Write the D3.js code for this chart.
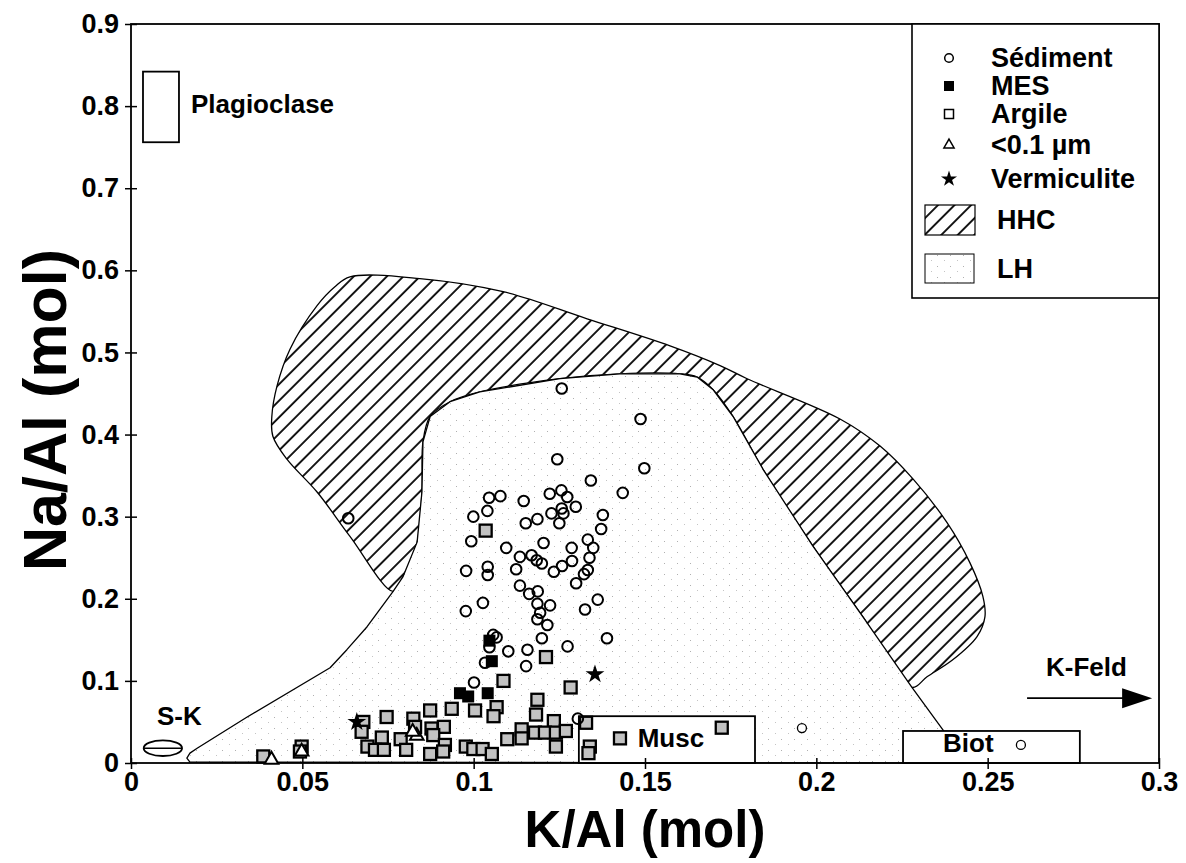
<!DOCTYPE html>
<html><head><meta charset="utf-8">
<script src="https://cdn.jsdelivr.net/npm/d3@7"></script>
<style>
body{margin:0;background:#fff}
text{font-family:"Liberation Sans",Arial,Helvetica,sans-serif;font-weight:bold;fill:#000}
</style>
</head><body>
<svg id="c" width="1186" height="863"></svg>
<script>
// ---------- data ----------
const xTicks = [0, 0.05, 0.1, 0.15, 0.2, 0.25, 0.3];
const xTickLabels = ["0", "0.05", "0.1", "0.15", "0.2", "0.25", "0.3"];
const yTicks = [0, 0.1, 0.2, 0.3, 0.4, 0.5, 0.6, 0.7, 0.8, 0.9];
const yTickLabels = ["0", "0.1", "0.2", "0.3", "0.4", "0.5", "0.6", "0.7", "0.8", "0.9"];
const legendLabels = ["Sédiment", "MES", "Argile", "<0.1 µm", "Vermiculite"];
const zoneLabels = ["HHC", "LH"];

const sediment = [
[0.1257,0.456],[0.1487,0.419],[0.1244,0.370],[0.1498,0.359],[0.1342,0.344],[0.1435,0.329],
[0.1045,0.323],[0.1078,0.325],[0.1222,0.328],[0.1256,0.332],[0.1273,0.324],[0.1146,0.319],
[0.1040,0.307],[0.0999,0.300],[0.1227,0.304],[0.1257,0.310],[0.1298,0.312],[0.1262,0.304],
[0.1186,0.297],[0.1152,0.292],[0.1250,0.292],[0.1377,0.302],[0.1372,0.285],[0.0993,0.270],
[0.1204,0.268],[0.1333,0.272],[0.1095,0.262],[0.1286,0.262],[0.1349,0.262],[0.1135,0.251],
[0.1169,0.253],[0.1184,0.247],[0.1199,0.243],[0.1124,0.236],[0.0978,0.234],[0.1041,0.239],
[0.1041,0.229],[0.1234,0.233],[0.1258,0.240],[0.1287,0.246],[0.1338,0.250],[0.1333,0.235],
[0.1322,0.230],[0.1135,0.216],[0.1162,0.206],[0.1187,0.209],[0.1299,0.219],[0.1186,0.194],
[0.1223,0.192],[0.1194,0.183],[0.1186,0.175],[0.1215,0.168],[0.1362,0.199],[0.1325,0.187],
[0.1027,0.195],[0.0977,0.185],[0.1199,0.152],[0.1389,0.152],[0.1274,0.142],[0.1157,0.138],
[0.1101,0.136],[0.1057,0.156],[0.1067,0.153],[0.1046,0.141],[0.1033,0.122],[0.1153,0.118],
[0.1001,0.098],[0.1304,0.054],[0.0634,0.298]
];
const sedimentSmall = [[0.1958,0.0425],[0.2597,0.022]];
const mes = [[0.1046,0.149],[0.1053,0.124],[0.0960,0.085],[0.0984,0.081],[0.1041,0.085]];
const argile = [
[0.1035,0.283],[0.1211,0.129],[0.1087,0.100],[0.1283,0.092],[0.1186,0.077],[0.1004,0.064],
[0.1067,0.068],[0.1058,0.057],[0.1182,0.059],[0.1234,0.051],[0.1140,0.041],[0.1140,0.030],
[0.1179,0.037],[0.1208,0.037],[0.1240,0.037],[0.1269,0.039],[0.1098,0.029],[0.1240,0.020],
[0.0977,0.020],[0.0999,0.017],[0.1026,0.017],[0.1053,0.011],[0.1328,0.049],[0.1339,0.020],
[0.1335,0.012],[0.1427,0.030],[0.1724,0.043],[0.0936,0.066],[0.0678,0.050],[0.0673,0.038],
[0.0746,0.056],[0.0732,0.031],[0.0824,0.054],[0.0829,0.044],[0.0787,0.029],[0.0873,0.064],
[0.0877,0.042],[0.0913,0.044],[0.0882,0.034],[0.0916,0.022],[0.0911,0.014],[0.0873,0.011],
[0.0803,0.016],[0.0690,0.020],[0.0712,0.016],[0.0738,0.016],[0.0386,0.008],[0.0498,0.020],
[0.0493,0.014]
];
const fine = [[0.0410,0.004],[0.0498,0.014],[0.0834,0.033],[0.0822,0.038]];
const vermiculite = [[0.0659,0.050],[0.1354,0.108]];

// HHC zone outline
const hhc = [
[0.0639,0.592],[0.0843,0.590],[0.1086,0.574],[0.1331,0.541],[0.1573,0.508],[0.1719,0.484],
[0.1798,0.468],[0.2069,0.419],[0.2186,0.386],[0.2282,0.346],[0.2381,0.293],[0.2448,0.244],
[0.2486,0.203],[0.2492,0.178],[0.2469,0.154],[0.2399,0.126],[0.2323,0.105],[0.2279,0.092],
[0.2136,0.178],[0.1990,0.264],[0.1844,0.358],[0.1757,0.422],[0.1698,0.455],[0.1652,0.470],
[0.1602,0.474],[0.1427,0.474],[0.1252,0.468],[0.1018,0.452],[0.0931,0.440],[0.0873,0.422],
[0.0852,0.391],[0.0849,0.330],[0.0835,0.269],[0.0794,0.227],[0.0765,0.209],
[0.0639,0.276],[0.0543,0.330],[0.0455,0.370],[0.0414,0.398],[0.0411,0.422],[0.0426,0.459],
[0.0464,0.504],[0.0543,0.557],[0.0595,0.580]
];
// LH zone outline
const lh = [
[0.0163,0.006],[0.0172,0.012],[0.0193,0.018],[0.0339,0.056],[0.0581,0.116],[0.0630,0.138],
[0.0689,0.166],[0.0765,0.209],[0.0794,0.227],[0.0835,0.269],[0.0849,0.330],[0.0852,0.391],
[0.0873,0.422],[0.0931,0.440],[0.1018,0.452],[0.1252,0.468],[0.1427,0.474],[0.1602,0.474],
[0.1652,0.470],[0.1698,0.455],[0.1757,0.422],[0.1844,0.358],[0.1990,0.264],[0.2136,0.178],
[0.2279,0.092],[0.2370,0.040],[0.2434,0.0],[0.0172,0.001]
];
// mineral boxes [x0,x1,y0,y1]
const plagioclaseBox = [0.0035,0.0140,0.756,0.842];
const muscBox = [0.1307,0.1821,0.0,0.057];
const biotBox = [0.2253,0.2769,0.0,0.039];
const skEllipse = [0.0093,0.018,0.0056,0.0095]; // cx, cy, rx, ry
const kfeldArrow = [0.2615,0.2980,0.079];

// ---------- drawing ----------
const svg = d3.select("#c");
const x = d3.scaleLinear().domain([0,0.3]).range([131,1159]);
const y = d3.scaleLinear().domain([0,0.9]).range([763,24]);

const defs = svg.append("defs");
const hp = defs.append("pattern").attr("id","hatch").attr("patternUnits","userSpaceOnUse")
  .attr("width",11.7).attr("height",11.7).attr("patternTransform","rotate(45)");
hp.append("rect").attr("width",11.7).attr("height",11.7).attr("fill","#fff");
hp.append("line").attr("x1",1).attr("y1",0).attr("x2",1).attr("y2",11.7).attr("stroke","#000").attr("stroke-width",1.8);

const sp = defs.append("pattern").attr("id","stip").attr("patternUnits","userSpaceOnUse")
  .attr("width",13).attr("height",11);
sp.append("rect").attr("width",13).attr("height",11).attr("fill","#fff");
sp.append("rect").attr("x",1).attr("y",2).attr("width",1).attr("height",1).attr("fill","#b0b0b0");
sp.append("rect").attr("x",8).attr("y",7).attr("width",1).attr("height",1).attr("fill","#c4c4c4");

const line = d3.line().x(d=>x(d[0])).y(d=>y(d[1]));

// HHC
svg.append("path").attr("d", d3.line().x(d=>x(d[0])).y(d=>y(d[1])).curve(d3.curveCatmullRomClosed.alpha(0.5))(hhc))
  .attr("fill","url(#hatch)").attr("stroke","#000").attr("stroke-width",1.3);
// LH
svg.append("path").attr("d", line(lh)+"Z")
  .attr("fill","url(#stip)").attr("stroke","#000").attr("stroke-width",1.3).attr("stroke-linejoin","round");

// boxes
function box(b){
  svg.append("rect").attr("x",x(b[0])).attr("y",y(b[3])).attr("width",x(b[1])-x(b[0])).attr("height",y(b[2])-y(b[3]))
    .attr("fill","#fff").attr("stroke","#000").attr("stroke-width",1.8);
}
box(plagioclaseBox); box(muscBox); box(biotBox);

// frame
svg.append("rect").attr("x",x(0)).attr("y",y(0.9)).attr("width",x(0.3)-x(0)).attr("height",y(0)-y(0.9))
  .attr("fill","none").attr("stroke","#000").attr("stroke-width",1.8);

// axes
const xa = svg.append("g").attr("transform",`translate(0,${y(0)})`)
  .call(d3.axisBottom(x).tickValues(xTicks).tickFormat((d,i)=>xTickLabels[i]).tickSize(6).tickPadding(3));
const ya = svg.append("g").attr("transform",`translate(${x(0)},0)`)
  .call(d3.axisLeft(y).tickValues(yTicks).tickFormat((d,i)=>yTickLabels[i]).tickSize(6).tickPadding(6));
[xa,ya].forEach(a=>{
  a.select(".domain").remove();
  a.selectAll("line").attr("stroke","#000").attr("stroke-width",1.5);
  a.selectAll("text").style("font-family","Liberation Sans, Arial, sans-serif").style("font-weight","bold").style("font-size","27px").attr("fill","#000");
});
ya.selectAll("line").attr("x1",6);
xa.selectAll("line").attr("y1",-5);

// axis titles
svg.append("text").attr("x",(x(0)+x(0.3))/2).attr("y",847).attr("text-anchor","middle").style("font-size","51px").text("K/Al (mol)");
svg.append("text").attr("transform",`translate(66,410) rotate(-90)`).attr("text-anchor","middle").style("font-size","61px").text("Na/Al (mol)");

// annotations
svg.append("text").attr("x",x(plagioclaseBox[1])+12).attr("y",113).style("font-size","26px").text("Plagioclase");
svg.append("text").attr("x",(x(muscBox[0])+x(muscBox[1]))/2+4).attr("y",747).attr("text-anchor","middle").style("font-size","26px").text("Musc");
svg.append("text").attr("x",x(biotBox[0])+40).attr("y",752).style("font-size","26px").text("Biot");
svg.append("text").attr("x",157).attr("y",725).style("font-size","26px").text("S-K");
svg.append("ellipse").attr("cx",x(skEllipse[0])).attr("cy",y(skEllipse[1]))
  .attr("rx",x(skEllipse[2])-x(0)).attr("ry",y(0)-y(skEllipse[3])).attr("fill","#fff").attr("stroke","#000").attr("stroke-width",1.8);
svg.append("line").attr("x1",x(skEllipse[0]-skEllipse[2])).attr("x2",x(skEllipse[0]+skEllipse[2]))
  .attr("y1",y(skEllipse[1])).attr("y2",y(skEllipse[1])).attr("stroke","#000").attr("stroke-width",1.4);
svg.append("text").attr("x",1046).attr("y",676).style("font-size","26px").text("K-Feld");
svg.append("line").attr("x1",x(kfeldArrow[0])).attr("x2",x(kfeldArrow[1])-20).attr("y1",y(kfeldArrow[2])).attr("y2",y(kfeldArrow[2]))
  .attr("stroke","#000").attr("stroke-width",1.6);
{
  const ax = x(kfeldArrow[1]), ay = y(kfeldArrow[2]);
  svg.append("path").attr("d",`M${ax-30},${ay-10}L${ax},${ay}L${ax-30},${ay+10}Z`).attr("fill","#000");
}

// points
const g = svg.append("g");
g.selectAll(".arg").data(argile).join("rect").attr("class","arg")
  .attr("x",d=>x(d[0])-6).attr("y",d=>y(d[1])-6).attr("width",12).attr("height",12)
  .attr("fill","#c2c2c2").attr("stroke","#000").attr("stroke-width",2.3);
g.selectAll(".mes").data(mes).join("rect").attr("class","mes")
  .attr("x",d=>x(d[0])-6).attr("y",d=>y(d[1])-6).attr("width",12).attr("height",12).attr("fill","#000");
g.selectAll(".fine").data(fine).join("path").attr("class","fine")
  .attr("transform",d=>`translate(${x(d[0])},${y(d[1])})`).attr("d",d3.symbol(d3.symbolTriangle,80))
  .attr("fill","#fff").attr("stroke","#000").attr("stroke-width",2);
g.selectAll(".sed").data(sediment).join("circle").attr("class","sed")
  .attr("cx",d=>x(d[0])).attr("cy",d=>y(d[1])).attr("r",5.3)
  .attr("fill","none").attr("stroke","#000").attr("stroke-width",2);
g.selectAll(".seds").data(sedimentSmall).join("circle").attr("class","seds")
  .attr("cx",d=>x(d[0])).attr("cy",d=>y(d[1])).attr("r",4.5)
  .attr("fill","#fff").attr("stroke","#000").attr("stroke-width",1.3);
g.selectAll(".ver").data(vermiculite).join("path").attr("class","ver")
  .attr("transform",d=>`translate(${x(d[0])},${y(d[1])})`).attr("d",d3.symbol(d3.symbolStar,110)).attr("fill","#000");

// legend
const L = svg.append("g");
L.append("rect").attr("x",912).attr("y",y(0.9)).attr("width",x(0.3)-912).attr("height",298-y(0.9))
  .attr("fill","#fff").attr("stroke","#000").attr("stroke-width",1.6);
const rowsY = [58, 86, 114, 145, 179];
const sx = 949;
L.append("circle").attr("cx",sx).attr("cy",rowsY[0]).attr("r",4.3).attr("fill","none").attr("stroke","#000").attr("stroke-width",1.5);
L.append("rect").attr("x",sx-5).attr("y",rowsY[1]-5).attr("width",10).attr("height",10).attr("fill","#000");
L.append("rect").attr("x",sx-4.5).attr("y",rowsY[2]-4.5).attr("width",9).attr("height",9).attr("fill","none").attr("stroke","#000").attr("stroke-width",1.5);
L.append("path").attr("transform",`translate(${sx},${rowsY[3]})`).attr("d",d3.symbol(d3.symbolTriangle,45)).attr("fill","none").attr("stroke","#000").attr("stroke-width",1.5);
L.append("path").attr("transform",`translate(${sx},${rowsY[4]})`).attr("d",d3.symbol(d3.symbolStar,80)).attr("fill","#000");
legendLabels.forEach((t,i)=>{
  L.append("text").attr("x",991).attr("y",rowsY[i]+9).style("font-size","27px").text(t);
});
L.append("rect").attr("x",925).attr("y",205).attr("width",50).attr("height",30).attr("fill","url(#hatch)").attr("stroke","#000").attr("stroke-width",1.2);
L.append("rect").attr("x",925).attr("y",254).attr("width",49).attr("height",29).attr("fill","url(#stip)").attr("stroke","#000").attr("stroke-width",1);
L.append("text").attr("x",997).attr("y",229).style("font-size","27px").text(zoneLabels[0]);
L.append("text").attr("x",997).attr("y",278).style("font-size","27px").text(zoneLabels[1]);
</script>
</body></html>
